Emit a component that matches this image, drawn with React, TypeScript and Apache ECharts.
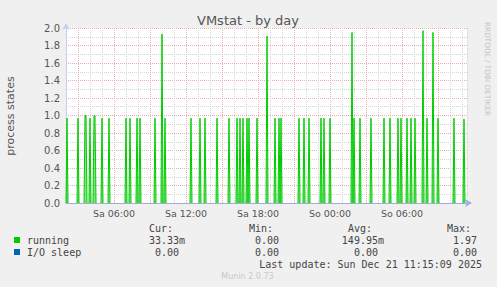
import React, { useEffect, useRef } from 'react';
import * as echarts from 'echarts';

// Samples of "running" (minutes since Saturday 00:00, 5-minute steps) that are not zero
const spikeMinutes = [
  125, 180, 215, 220, 240, 260, 265, 300, 335,
  420, 440, 475, 490, 565, 600, 615,
  745, 790, 815, 875, 935, 975, 990, 1005, 1025, 1035, 1075, 1125,
  1165, 1185, 1195, 1285, 1310, 1335, 1395, 1410, 1440,
  1550, 1560, 1590, 1645,
  1710, 1740, 1780, 1795, 1825, 1845, 1865, 1905, 1925, 1955, 1980, 2060, 2110,
];
const spikeValues = [
  0.97, 0.97, 1.0, 1.0, 0.97, 1.0, 1.0, 0.97, 0.97,
  0.97, 0.97, 0.97, 0.97, 0.97, 1.93, 0.97,
  0.97, 0.97, 0.97, 0.97, 0.97, 0.97, 0.97, 0.97, 0.97, 0.97, 0.97, 1.91,
  0.97, 0.97, 0.97, 0.97, 0.97, 0.97, 0.97, 0.97, 0.97,
  1.95, 0.97, 0.97, 0.97,
  0.97, 0.97, 0.97, 0.97, 0.97, 0.97, 0.97, 1.97, 0.97, 1.95, 0.97, 0.97, 0.96,
];
const ioSleepMinutes = [120, 2125];
const ioSleepValues = [0, 0];

const xStart = 120; // Sa 02:00
const xEnd = 2125; // So 11:25
const majorGridMinutes = [180, 360, 540, 720, 900, 1080, 1260, 1440, 1620, 1800, 1980];
const xTickMinutes = [360, 720, 1080, 1440, 1800];
const xTickLabels = ['Sa 06:00', 'Sa 12:00', 'Sa 18:00', 'So 00:00', 'So 06:00'];

const legendNames = ['running', 'I/O sleep'];
const legendColors = ['#00cc00', '#0066b3'];
const curValues = ['33.33m', '0.00'];
const minValues = ['0.00', '0.00'];
const avgValues = ['149.95m', '0.00'];
const maxValues = ['1.97', '0.00'];
const lastUpdate = 'Last update: Sun Dec 21 11:15:09 2025';

function buildRunning() {
  const out: any[] = [];
  for (let i = 0; i < spikeMinutes.length; i++) {
    const t = spikeMinutes[i];
    const prevAdj = i > 0 && spikeMinutes[i - 1] === t - 5;
    const nextAdj = i < spikeMinutes.length - 1 && spikeMinutes[i + 1] === t + 5;
    if (!prevAdj) out.push([t - 5, 0]);
    out.push([t, spikeValues[i]]);
    if (!nextAdj) {
      out.push([t + 5, 0]);
      out.push([t + 5, '-']);
    }
  }
  return out;
}

export default function App() {
  const ref = useRef<HTMLDivElement>(null);
  useEffect(() => {
    const chart = echarts.init(ref.current!, null, { renderer: 'svg' });
    const mono = 'DejaVu Sans Mono';
    const txt = '#444';
    const redGrid = '#eab0b0';
    const grayGrid = '#d6d6d6';
    const graphics: any[] = [
      { type: 'text', x: 248, y: 20, style: { text: 'VMstat - by day', font: '13px DejaVu Sans', fill: '#555', align: 'center', verticalAlign: 'middle' } },
      { type: 'text', x: 10, y: 116, rotation: Math.PI / 2, style: { text: 'process states', font: '11px DejaVu Sans', fill: '#555', align: 'center', verticalAlign: 'middle' } },
      { type: 'text', x: 487, y: 22, rotation: -Math.PI / 2, style: { text: 'RRDTOOL / TOBI OETIKER', font: '7.3px DejaVu Sans', fill: '#c4c4c4', align: 'left', verticalAlign: 'middle' } },
      { type: 'text', x: 149, y: 228, style: { text: 'Cur:', font: `10px ${mono}`, fill: txt, verticalAlign: 'middle' } },
      { type: 'text', x: 249, y: 228, style: { text: 'Min:', font: `10px ${mono}`, fill: txt, verticalAlign: 'middle' } },
      { type: 'text', x: 348, y: 228, style: { text: 'Avg:', font: `10px ${mono}`, fill: txt, verticalAlign: 'middle' } },
      { type: 'text', x: 447, y: 228, style: { text: 'Max:', font: `10px ${mono}`, fill: txt, verticalAlign: 'middle' } },
      { type: 'text', x: 482, y: 264, style: { text: lastUpdate, font: `10px ${mono}`, fill: txt, align: 'right', verticalAlign: 'middle' } },
      { type: 'text', x: 247.5, y: 276, style: { text: 'Munin 2.0.73', font: '8px DejaVu Sans', fill: '#c8c8c8', align: 'center', verticalAlign: 'middle' } },
    ];
    const rowY = [240, 252];
    const colRight = [185, 285, 384, 477];
    legendNames.forEach((n, i) => {
      const y = rowY[i];
      graphics.push({ type: 'rect', shape: { x: 14, y: y - 3, width: 6, height: 6 }, style: { fill: legendColors[i] } });
      graphics.push({ type: 'text', x: 27, y, style: { text: n, font: `10px ${mono}`, fill: txt, verticalAlign: 'middle' } });
      const vals = [curValues[i], minValues[i], avgValues[i], maxValues[i]];
      vals.forEach((v, c) => {
        const hasUnit = /[a-zA-Z]$/.test(v);
        const right = colRight[c] - (hasUnit || c === 3 ? 0 : 6);
        graphics.push({ type: 'text', x: right, y, style: { text: v, font: `10px ${mono}`, fill: txt, align: 'right', verticalAlign: 'middle' } });
      });
    });

    chart.setOption({
      animation: false,
      backgroundColor: '#f0f0f0',
      grid: { left: 66, top: 28, width: 401, height: 175, show: true, backgroundColor: '#ffffff', borderWidth: 0 },
      xAxis: {
        type: 'value', min: xStart, max: xEnd, interval: 60,
        axisLine: { show: true, onZero: false, lineStyle: { color: '#a3aae2', width: 1 }, symbol: ['none', 'arrow'], symbolSize: [6, 7], symbolOffset: [0, 5] },
        axisTick: { show: false },
        axisLabel: {
          formatter: (v: number) => { const i = xTickMinutes.indexOf(v); return i >= 0 ? xTickLabels[i] : ''; },
          color: '#555', fontFamily: 'DejaVu Sans', fontSize: 9.5, margin: 5, showMinLabel: true, showMaxLabel: true,
        },
        splitLine: { show: true, lineStyle: { color: grayGrid, type: [1, 1], width: 1 } },
      },
      yAxis: {
        type: 'value', min: 0, max: 2, interval: 0.2,
        axisLine: { show: true, lineStyle: { color: '#c8ccf0', width: 1 }, symbol: ['none', 'arrow'], symbolSize: [6, 7], symbolOffset: [0, 5] },
        axisTick: { show: false },
        axisLabel: { formatter: (v: number) => v.toFixed(1), color: '#555', fontFamily: 'DejaVu Sans', fontSize: 10, margin: 6 },
        splitLine: { show: true, lineStyle: { color: redGrid, type: [1, 1], width: 1 } },
        minorTick: { show: false, splitNumber: 2 },
        minorSplitLine: { show: true, lineStyle: { color: grayGrid, type: [1, 1], width: 1 } },
      },
      series: [
        {
          name: 'I/O sleep', type: 'line', z: 1, data: ioSleepMinutes.map((t, i) => [t, ioSleepValues[i]]), showSymbol: false,
          lineStyle: { color: '#0066b3', width: 0 }, itemStyle: { color: '#0066b3' },
          markLine: {
            silent: true, symbol: 'none', label: { show: false }, animation: false, z: 1,
            lineStyle: { color: redGrid, type: [1, 1], width: 1 },
            data: majorGridMinutes.map((m) => ({ xAxis: m })),
          },
        },
        {
          name: 'running', type: 'line', z: 3, data: buildRunning(), showSymbol: false, connectNulls: false,
          lineStyle: { color: '#00cc00', width: 1 }, areaStyle: { color: '#00cc00', opacity: 0.5 }, itemStyle: { color: '#00cc00' },
        },
      ],
      graphic: graphics,
    });
    return () => chart.dispose();
  }, []);
  return <div ref={ref} style={{ position: 'fixed', left: 0, top: 0, width: 497, height: 287 }} />;
}
